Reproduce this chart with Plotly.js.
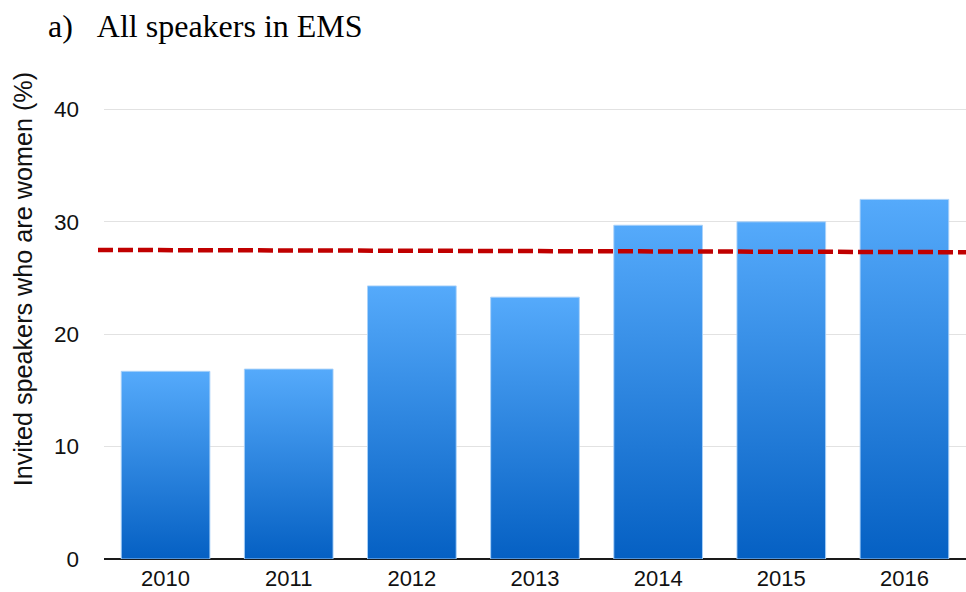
<!DOCTYPE html>
<html>
<head>
<meta charset="utf-8">
<script src="https://cdn.plot.ly/plotly-3.0.1.min.js"></script>
<style>html,body{margin:0;padding:0;background:#fff;}#chart{width:966px;height:592px;}</style>
</head>
<body>
<div id="chart"></div>
<script>
const years = ['2010', '2011', '2012', '2013', '2014', '2015', '2016'];
const womenPct = [16.7, 16.9, 24.3, 23.3, 29.7, 30.0, 32.0];
const refLine = [27.5, 27.3];
const yTicks = [0, 10, 20, 30, 40];
const chartTitle = 'a)\u00a0\u00a0\u00a0All speakers in EMS';
const yTitle = 'Invited speakers who are women (%)';

const W = 966, H = 592;
const L = 104, R = 0, T = 86.5, B = 33;
const pw = W - L - R, ph = H - T - B;
const px2x = p => (p - L) / pw;
const px2y = p => (H - B - p) / ph;

const trace = {
  type: 'bar',
  x: years,
  y: womenPct,
  marker: { color: '#2f86e6', line: { color: 'rgba(170,210,250,0.9)', width: 1 } },
  hoverinfo: 'x+y'
};

const layout = {
  width: W, height: H,
  margin: { l: L, r: R, t: T, b: B, pad: 0 },
  paper_bgcolor: '#ffffff', plot_bgcolor: '#ffffff',
  showlegend: false,
  bargap: 0.28,
  font: { family: '"Liberation Sans", Arial, sans-serif', color: '#111' },
  xaxis: {
    type: 'category',
    showgrid: false, zeroline: false, showline: false,
    ticks: '', ticklabelstandoff: 4,
    tickfont: { size: 22, color: '#111' },
    automargin: false
  },
  yaxis: {
    range: [0, 42],
    tickvals: yTicks,
    showgrid: true, gridcolor: '#e2e2e2', gridwidth: 1.2,
    zeroline: true, zerolinecolor: '#1a1a1a', zerolinewidth: 2,
    showline: false, ticks: '', ticklabelstandoff: 24,
    tickfont: { size: 22.5, color: '#111' },
    automargin: false, fixedrange: true
  },
  shapes: [{
    type: 'line', xref: 'paper', yref: 'y',
    x0: px2x(98), x1: 1, y0: refLine[0], y1: refLine[1],
    line: { color: '#c00000', width: 4.5, dash: '15px,5px' }
  }],
  annotations: [
    {
      text: chartTitle, showarrow: false,
      xref: 'paper', yref: 'paper', x: px2x(46), y: px2y(25),
      xanchor: 'left', yanchor: 'middle',
      font: { family: '"Liberation Serif", "Times New Roman", serif', size: 32, color: '#000' }
    },
    {
      text: yTitle, showarrow: false, textangle: -90,
      xref: 'paper', yref: 'paper', x: px2x(23), y: px2y(279),
      xanchor: 'center', yanchor: 'middle',
      font: { size: 25.2, color: '#111' }
    }
  ]
};

Plotly.newPlot('chart', [trace], layout, { displayModeBar: false, staticPlot: true }).then(gd => {
  const svg = gd.querySelector('svg.main-svg');
  const ns = 'http://www.w3.org/2000/svg';
  let defs = svg.querySelector('defs');
  if (!defs) { defs = document.createElementNS(ns, 'defs'); svg.insertBefore(defs, svg.firstChild); }
  const grad = document.createElementNS(ns, 'linearGradient');
  grad.setAttribute('id', 'barGrad');
  grad.setAttribute('x1', '0'); grad.setAttribute('y1', '0');
  grad.setAttribute('x2', '0'); grad.setAttribute('y2', '1');
  [['0', '#55aafb'], ['1', '#0560c3']].forEach(([o, c]) => {
    const s = document.createElementNS(ns, 'stop');
    s.setAttribute('offset', o); s.setAttribute('stop-color', c);
    grad.appendChild(s);
  });
  defs.appendChild(grad);
  gd.querySelectorAll('.barlayer .point path').forEach(p => { p.style.fill = 'url(#barGrad)'; });
});
</script>
</body>
</html>
